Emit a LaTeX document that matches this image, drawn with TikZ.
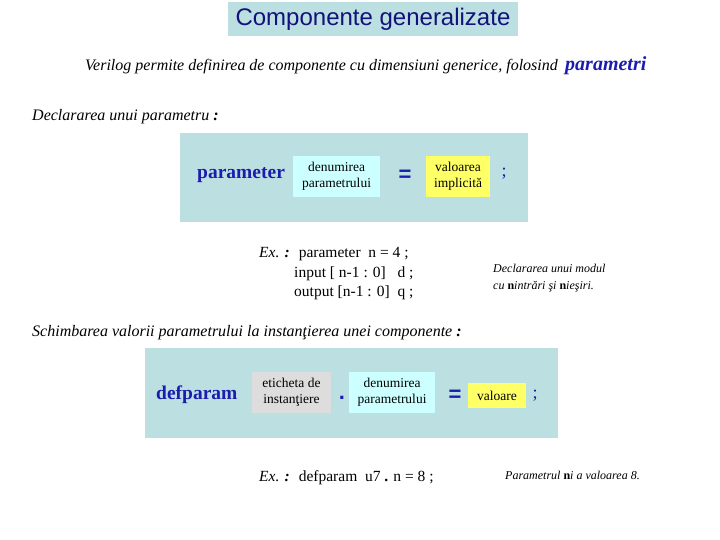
\documentclass[tikz,border=0pt]{standalone}
\usepackage{fontspec}
\setmainfont{Liberation Serif}
\setsansfont{Liberation Sans}
\usetikzlibrary{positioning}

\definecolor{panelblue}{HTML}{BCDFE2}
\definecolor{slotcyan}{HTML}{CCFFFF}
\definecolor{slotyellow}{HTML}{FFFF66}
\definecolor{slotgrey}{HTML}{DDDDDD}
\definecolor{kwblue}{HTML}{1C1CAE}
\definecolor{titleblue}{HTML}{12127A}

\begin{document}
\begin{tikzpicture}[x=1pt, y=-1pt, inner sep=0pt,
    note/.style={font=\fontsize{16}{18}\selectfont\itshape, anchor=base west},
    small/.style={font=\fontsize{12}{14}\selectfont\itshape, anchor=base west},
    code/.style={font=\fontsize{15.5}{17}\selectfont, anchor=base west},
    kw/.style={font=\fontsize{19.5}{20}\selectfont\bfseries, text=kwblue, anchor=west},
    sym/.style={font=\sffamily\fontsize{22}{22}\selectfont\bfseries, text=kwblue},
    semi/.style={font=\fontsize{18}{18}\selectfont, text=kwblue},
    slot/.style={font=\fontsize{13.5}{15.5}\selectfont, align=center, minimum height=41}]
    \useasboundingbox (0,0) rectangle (720,540);

    % title
    \node[fill=panelblue, minimum width=290, minimum height=34, text=titleblue,
      font=\sffamily\fontsize{24}{24}\selectfont] (title) at (373,19) {Componente generalizate};

    \node[note] (intro) at (85,71) {Verilog permite definirea de componente cu dimensiuni generice, folosind};
    \node[anchor=base west, text=kwblue, font=\fontsize{20}{20}\selectfont\bfseries\itshape]
      (parametri) at ([xshift=7]intro.base east) {parametri};

    % declaration
    \node[note] (declhead) at (32,121) {Declararea unui parametru \textbf{:}};
    \fill[panelblue] (180,133) rectangle (528,222);
    \node[kw] (kwparam) at (197,175) {parameter};
    \node[slot, fill=slotcyan, minimum width=87] (nameA) at (336.5,176.5) {denumirea\\parametrului};
    \node[sym] (eqA) at (405,176) {=};
    \node[slot, fill=slotyellow, minimum width=64] (valA) at (458,176.5) {valoarea\\implicită};
    \node[semi] (semiA) at (504,174) {;};

    \node[code] (exA1) at (259,258) {\textit{Ex.} \textbf{\textit{:}}~ parameter~ n = 4 ;};
    \node[code] (exA2) at (294,277) {input [ n-1 : 0]~~ d ;};
    \node[code] (exA3) at (294,296) {output [n-1 : 0]~ q ;};

    \node[small] (modA1) at (493,272) {Declararea unui modul};
    \node[small] (modA2) at (493,289) {cu \textbf{\upshape n}intrări şi \textbf{\upshape n}ieşiri.};

    % instantiation
    \node[note] (insthead) at (32,336) {Schimbarea valorii parametrului la instanţierea unei componente \textbf{:}};
    \fill[panelblue] (145,348) rectangle (558,438);
    \node[kw] (kwdef) at (156,395) {defparam};
    \node[slot, fill=slotgrey, minimum width=79] (labelB) at (291.5,392.5) {eticheta de\\instanţiere};
    \node[sym] (dotB) at (342,398) {.};
    \node[slot, fill=slotcyan, minimum width=86] (nameB) at (392,392.5) {denumirea\\parametrului};
    \node[sym] (eqB) at (455,396) {=};
    \node[slot, fill=slotyellow, minimum width=58, minimum height=25] (valB) at (497,395.5) {valoare};
    \node[semi] (semiB) at (535,396) {;};

    \node[code] (exB) at (259,481) {\textit{Ex.} \textbf{\textit{:}}~ defparam~ u7 \textbf{.} n = 8 ;};
    \node[small] (noteB) at (505,479) {Parametrul \textbf{\upshape n}i a valoarea 8.};
\end{tikzpicture}
\end{document}
